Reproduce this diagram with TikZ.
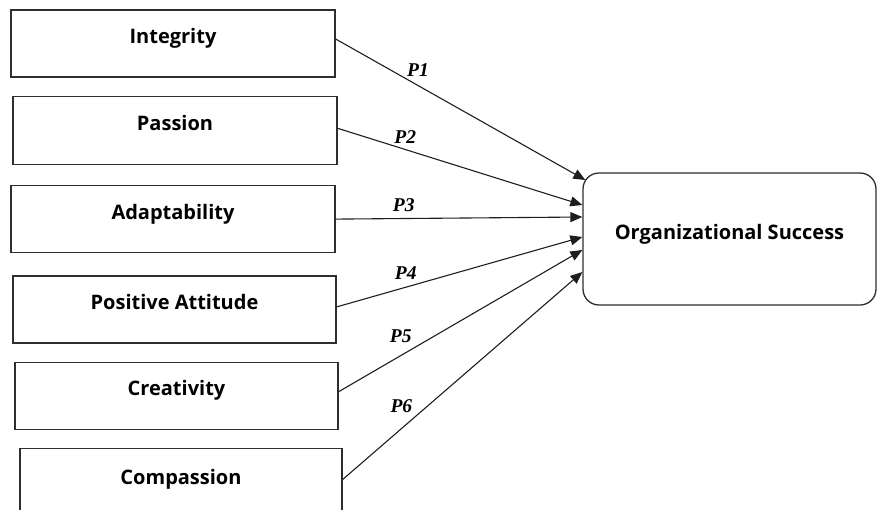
\documentclass[tikz,border=0pt]{standalone}
\usepackage{fontspec}
\usepackage{tikz}
\usetikzlibrary{arrows.meta,positioning,calc}
\setmainfont{Liberation Serif}
\newfontfamily\boxfont{Open Sans}
\definecolor{Ink}{HTML}{1E1E1E}
\definecolor{Frame}{HTML}{2E2E2E}

\begin{document}
\begin{tikzpicture}[x=1pt,y=-1pt,
    b/.style={draw=Frame,line width=1.3pt,minimum width=324pt,minimum height=67pt,inner sep=0pt,text height=12pt,text depth=12pt,font=\boxfont\bfseries\fontsize{20}{24}\selectfont},
    a/.style={-{Triangle[length=12pt,width=10pt]},line width=1.1pt,draw=Ink},
    p/.style={inner sep=1pt,font=\bfseries\itshape\fontsize{19.5}{22}\selectfont}]
    \useasboundingbox (0,0) rectangle (877,509);
    \node[b] (int) at (173,43.5) {Integrity};
    \node[b,minimum height=68pt,below=18pt of int,xshift=2pt] (pas) {Passion};
    \node[b,below=20pt of pas,xshift=-2pt] (ada) {Adaptability};
    \node[b,minimum width=323pt,below=22pt of ada,xshift=1.5pt] (pos) {Positive Attitude};
    \node[b,minimum width=323pt,below=18pt of pos,xshift=2pt] (cre) {Creativity};
    \node[b,minimum width=322pt,minimum height=72pt,below=18pt of cre,xshift=4.5pt] (com) {Compassion};
    \node[b,minimum width=293pt,minimum height=132pt,rounded corners=16pt] (suc) at (729.5,239) {Organizational Success};
    \draw[a] ($(int.east)+(0,4.5pt)$) -- node[p,pos=0.33,above=7.7pt]{P1} ($(suc.west)+(3pt,59pt)$);
    \draw[a] ($(pas.east)+(0,2pt)$) -- node[p,pos=0.276,above=4.5pt]{P2} ($(suc.west)+(0,34pt)$);
    \draw[a] (ada.east) -- node[p,pos=0.276,above=5pt]{P3} ($(suc.west)+(0,22pt)$);
    \draw[a] ($(pos.east)+(0,2.5pt)$) -- node[p,pos=0.281,above=6.4pt]{P4} ($(suc.west)+(0,2pt)$);
    \draw[a] ($(cre.east)+(0,4pt)$) -- node[p,pos=0.255,above=11pt]{P5} ($(suc.west)+(0,-11pt)$);
    \draw[a] ($(com.east)+(0,5pt)$) -- node[p,pos=0.245,above=14.5pt]{P6} ($(suc.west)+(0,-33pt)$);
\end{tikzpicture}
\end{document}
